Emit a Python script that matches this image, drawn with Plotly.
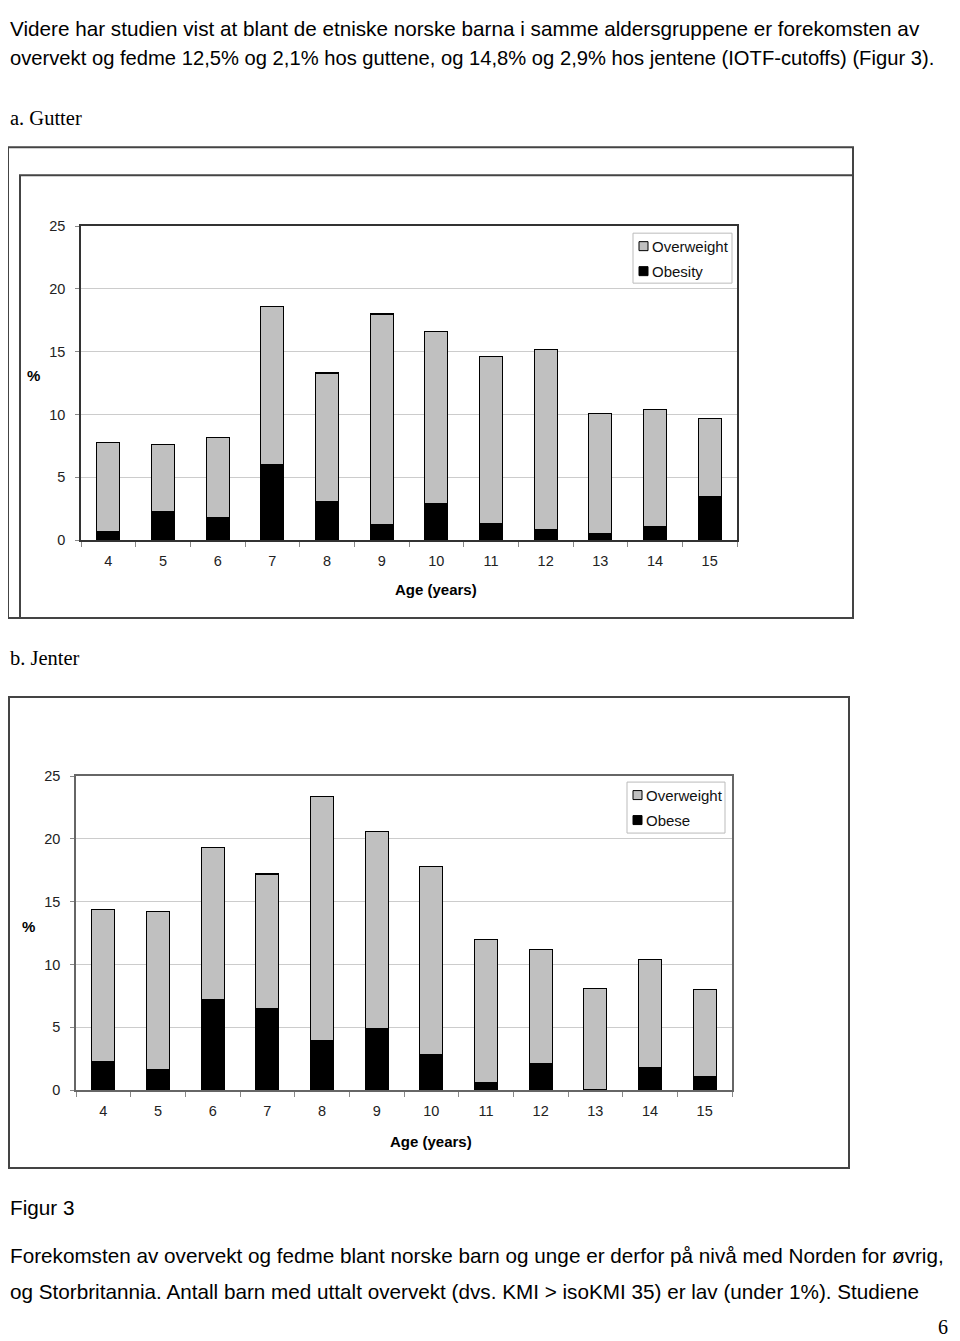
import plotly.graph_objects as go

# the page is photographed with an offset: screen_x = fig_x + 8, screen_y = 0.988 * (fig_y + 16)
OFF_X, OFF_Y, SCALE_Y = 8, 16, 1341 / 1357
W, H = 952, 1341

ages = ["4", "5", "6", "7", "8", "9", "10", "11", "12", "13", "14", "15"]

# a. Gutter (boys) - stacked segments, %
boys_obese = [0.7, 2.3, 1.8, 6.0, 3.1, 1.2, 2.9, 1.3, 0.8, 0.5, 1.1, 3.5]
boys_overweight = [7.1, 5.3, 6.4, 12.6, 10.2, 16.8, 13.7, 13.3, 14.4, 9.6, 9.3, 6.2]

# b. Jenter (girls)
girls_obese = [2.3, 1.6, 7.2, 6.5, 3.9, 4.9, 2.8, 0.6, 2.1, 0.0, 1.8, 1.1]
girls_overweight = [12.1, 12.6, 12.1, 10.7, 19.5, 15.7, 15.0, 11.4, 9.1, 8.1, 8.6, 6.9]

y_ticks = [0, 5, 10, 15, 20, 25]

GREY = "#c0c0c0"
SANS = "Liberation Sans, Arial, sans-serif"
SERIF = "Liberation Serif, Times New Roman, serif"


# screen pixel -> paper fraction
def px(x):
    return (x - OFF_X) / W


def py(y):
    return 1 - (y / SCALE_Y - OFF_Y) / H


fig = go.Figure()

bar_line = dict(color="black", width=1.2)
# chart a
fig.add_trace(go.Bar(x=ages, y=boys_obese, name="Obesity", marker=dict(color="black", line=bar_line),
                     xaxis="x", yaxis="y"))
fig.add_trace(go.Bar(x=ages, y=boys_overweight, name="Overweight", marker=dict(color=GREY, line=bar_line),
                     xaxis="x", yaxis="y"))
# chart b
fig.add_trace(go.Bar(x=ages, y=girls_obese, name="Obese", marker=dict(color="black", line=bar_line),
                     xaxis="x2", yaxis="y2"))
fig.add_trace(go.Bar(x=ages, y=girls_overweight, name="Overweight", marker=dict(color=GREY, line=bar_line),
                     xaxis="x2", yaxis="y2"))


def xaxis_style(domain, linecolor):
    return dict(domain=domain, type="category", tickson="boundaries", ticks="outside", ticklen=5,
                tickcolor="#888", showline=True, linecolor=linecolor, linewidth=1.5, mirror=True,
                showgrid=False, ticklabelstandoff=7,
                tickfont=dict(family=SANS, size=14.5, color="#222"), fixedrange=True)


def yaxis_style(domain, anchor, linecolor):
    return dict(domain=domain, anchor=anchor, range=[0, 25], tickvals=y_ticks, ticks="outside", ticklen=4,
                tickcolor="#888", showline=True, linecolor=linecolor, linewidth=1.5, mirror=True,
                showgrid=True, gridcolor="#cccccc", gridwidth=1, zeroline=False, ticklabelstandoff=7,
                tickfont=dict(family=SANS, size=14.5, color="#222"), fixedrange=True)


fig.update_layout(
    width=W, height=H,
    margin=dict(l=0, r=0, t=0, b=0),
    paper_bgcolor="white", plot_bgcolor="white",
    barmode="stack", bargap=0.58,
    xaxis=dict(**xaxis_style([px(81), px(737)], "#333"), anchor="y"),
    yaxis=yaxis_style([py(540), py(226)], "x", "#333"),
    xaxis2=dict(**xaxis_style([px(76), px(732)], "#666"), anchor="y2"),
    yaxis2=yaxis_style([py(1090), py(776)], "x2", "#666"),
    showlegend=False,
)

# frames around the embedded charts
frame = dict(type="rect", xref="paper", yref="paper", line=dict(color="#444", width=2), fillcolor="rgba(0,0,0,0)")
fig.add_shape(x0=px(8), x1=px(853), y0=py(618), y1=py(147), **frame)
fig.add_shape(x0=px(20), x1=px(853), y0=py(618), y1=py(175), **frame)
fig.add_shape(x0=px(9), x1=px(849), y0=py(1168), y1=py(697), **frame)


def note(x, y, text, size=20.7, family=SANS, bold=False, anchor="left", color="black"):
    fig.add_annotation(x=px(x), y=py(y), xref="paper", yref="paper", text=f"<b>{text}</b>" if bold else text,
                       showarrow=False, xanchor=anchor, yanchor="middle",
                       font=dict(family=family, size=size, color=color))


def legend_box(x0, y0, x1, y1, labels):
    fig.add_shape(type="rect", xref="paper", yref="paper", x0=px(x0), x1=px(x1), y0=py(y1), y1=py(y0),
                  line=dict(color="#bbbbbb", width=1), fillcolor="white")
    for i, (label, color) in enumerate(labels):
        cy = y0 + 13 + 25 * i
        fig.add_shape(type="rect", xref="paper", yref="paper", x0=px(x0 + 6), x1=px(x0 + 15),
                      y0=py(cy + 4.5), y1=py(cy - 4.5), line=dict(color="black", width=1), fillcolor=color)
        note(x0 + 17, cy, label, size=15, color="#111")


# document text (left edge of the visible page starts at x=8)
note(8, 28, "Videre har studien vist at blant de etniske norske barna i samme aldersgruppene er forekomsten av")
note(8, 58, "overvekt og fedme 12,5% og 2,1% hos guttene, og 14,8% og 2,9% hos jentene (IOTF-cutoffs) (Figur 3).",
     size=20.2)
note(8, 118, "a. Gutter", size=20.5, family=SERIF)
note(8, 658, "b. Jenter", size=20.5, family=SERIF)
note(8, 1207, "Figur 3")
note(8, 1255, "Forekomsten av overvekt og fedme blant norske barn og unge er derfor på nivå med Norden for øvrig,")
note(8, 1291, "og Storbritannia. Antall barn med uttalt overvekt (dvs. KMI > isoKMI 35) er lav (under 1%). Studiene")
note(950, 1327, "6", size=20, family=SERIF, anchor="right")

# axis titles
note(33, 375, "%", size=15, bold=True, anchor="center")
note(436, 589, "Age (years)", size=15, bold=True, anchor="center")
note(28, 926, "%", size=15, bold=True, anchor="center")
note(431, 1141, "Age (years)", size=15, bold=True, anchor="center")

# legends
legend_box(633, 233, 732, 283, [("Overweight", GREY), ("Obesity", "black")])
legend_box(627, 782, 725, 833, [("Overweight", GREY), ("Obese", "black")])

fig.write_html("out.html")
